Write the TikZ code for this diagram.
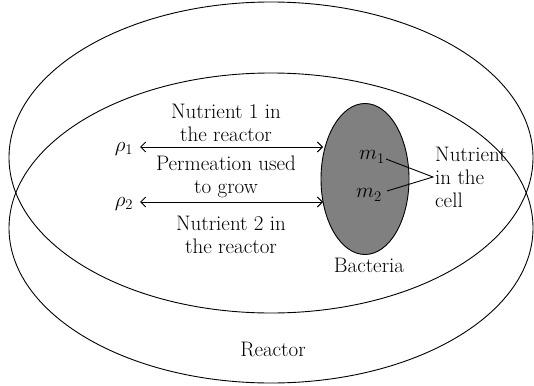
\RequirePackage{fix-cm}
\documentclass[tikz,border=0pt]{standalone}
\usetikzlibrary{arrows.meta,shapes.geometric}
\begin{document}
\begin{tikzpicture}[x=1pt,y=-1pt,
  lbl/.style={font=\fontsize{21}{23}\selectfont, inner sep=0pt, align=center},
  sym/.style={font=\fontsize{21}{23}\selectfont, inner sep=0pt},
  boundary/.style={draw, line width=0.9pt},
  flow/.style={draw, line width=0.9pt, {Straight Barb[length=5pt,width=10pt]}-{Straight Barb[length=5pt,width=10pt]}},
  pointer/.style={draw, line width=0.9pt}]
\useasboundingbox (0,0) rectangle (534,385);
\draw[boundary] (271,157.5) ellipse [x radius=262, y radius=155.5];
\draw[boundary] (271,228) ellipse [x radius=262, y radius=155];
\node[boundary, fill=black!50, ellipse, minimum width=88pt, minimum height=151pt, inner sep=0pt] (bac) at (365,179) {};
% labels
\node[sym] (r1) at (124,149) {$\rho_1$};
\node[sym] (r2) at (124,204) {$\rho_2$};
\coordinate (a1) at (140,147);
\coordinate (a2) at (140,202);
\coordinate (b1) at (323,147);
\coordinate (b2) at (323,202);
\draw[flow] (a1) -- (b1);
\draw[flow] (a2) -- (b2);
\node[lbl] (n1) at (226,123) {Nutrient 1 in\\the reactor};
\node[lbl] (perm) at (226,177) {Permeation used\\to grow};
\node[lbl] (n2) at (231,235) {Nutrient 2 in\\the reactor};
\node[lbl] (bt) at (369,265) {Bacteria};
\node[lbl] (re) at (273,349) {Reactor};
\node[sym] (m1) at (372,157) {$m_1$};
\node[sym] (m2) at (369,195) {$m_2$};
\node[lbl, align=left, anchor=west] (cell) at (435,177) {Nutrient\\in the\\cell};
\coordinate (tip) at (433,177);
\draw[pointer] (386,159) -- (tip) -- (387,191);
\end{tikzpicture}
\end{document}
